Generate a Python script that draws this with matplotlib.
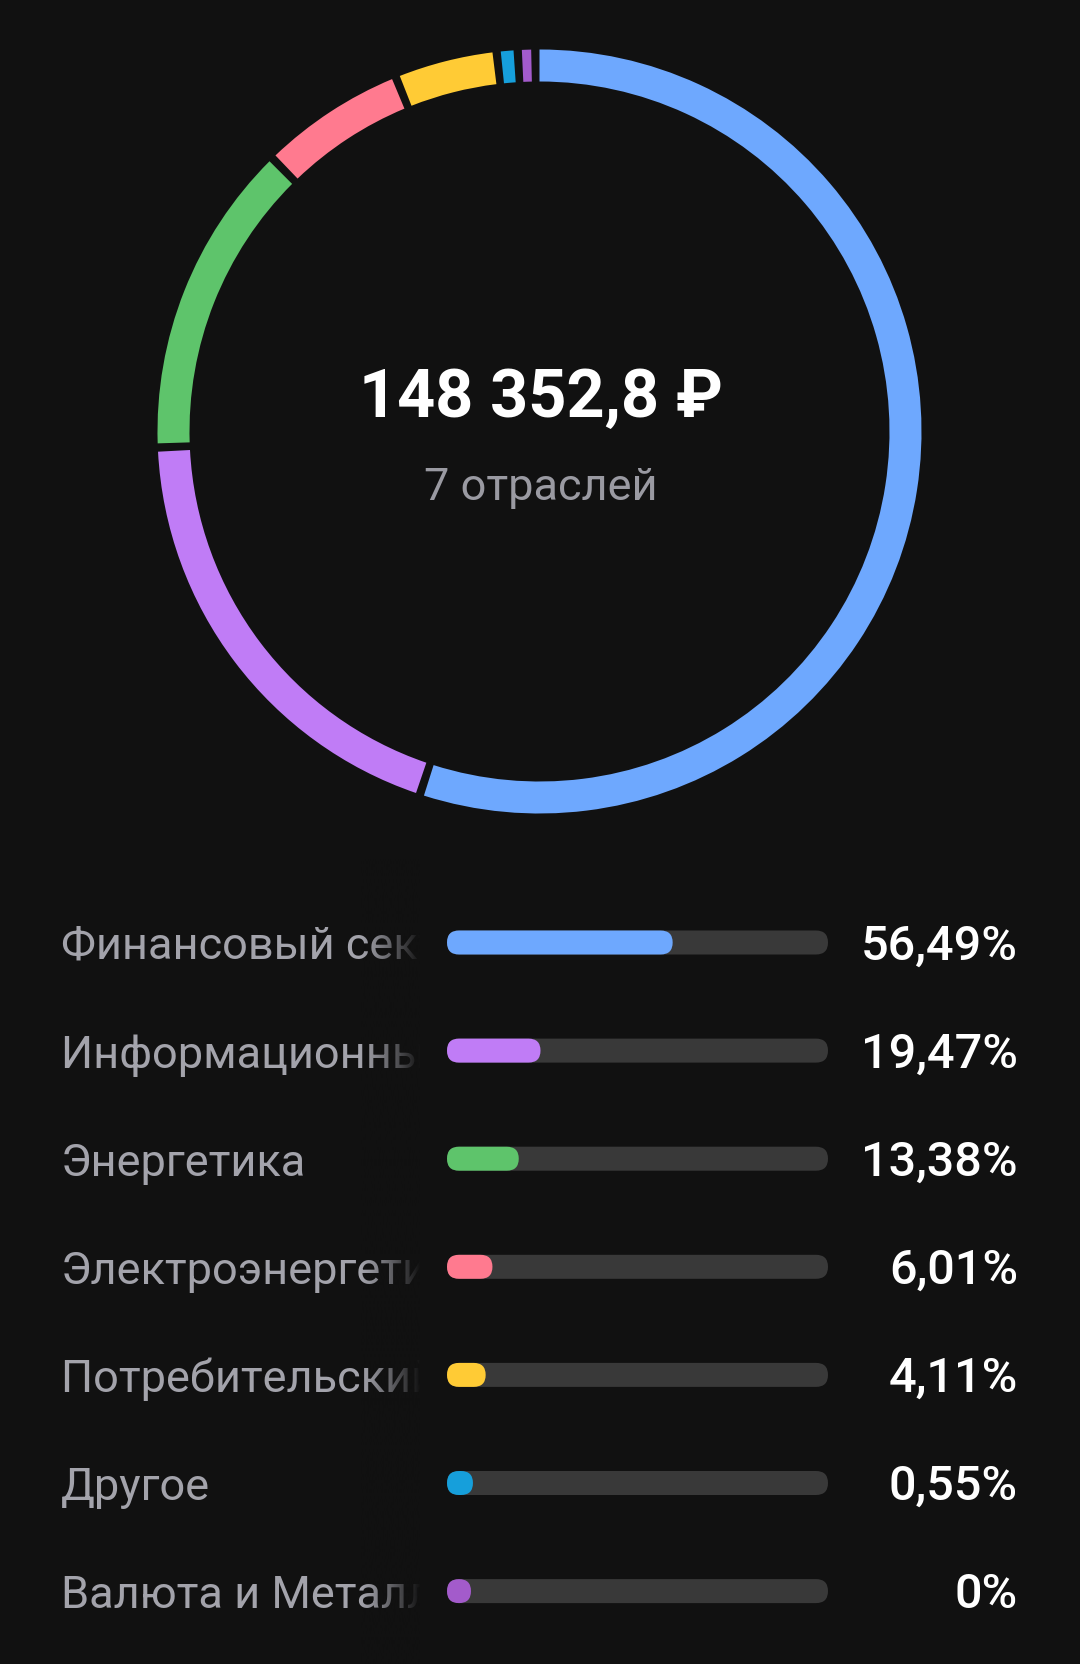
import numpy as np
import matplotlib
matplotlib.use("Agg")
import matplotlib.pyplot as plt
from matplotlib.patches import Wedge, FancyBboxPatch, Rectangle

# ---- data ----
sectors = ["Финансовый сектор", "Информационные технологии", "Энергетика",
           "Электроэнергетика", "Потребительский сектор", "Другое", "Валюта и Металлы"]
shares = [56.49, 19.47, 13.38, 6.01, 4.11, 0.55, 0.0]
share_labels = ["56,49%", "19,47%", "13,38%", "6,01%", "4,11%", "0,55%", "0%"]
colors = ["#6EA8FE", "#C07CF6", "#5EC46B", "#FF7A8F", "#FFCB35", "#169FDB", "#A35BCB"]
total_text = "148 352,8 ₽"
subtitle = "7 отраслей"

BG = "#111111"
TRACK = "#393939"
FONT = ["Roboto", "DejaVu Sans"]

W, H = 1080, 1665
fig = plt.figure(figsize=(W / 100, H / 100), dpi=100, facecolor=BG)
ax = fig.add_axes([0, 0, 1, 1])
ax.set_facecolor(BG)
ax.set_xlim(0, W)
ax.set_ylim(H, 0)
ax.axis("off")

# ---- donut ----
cx, cy = 539.5, 432.5
r_out, ring = 382, 32
gap = 1.25
min_ang = 1.4
avail = 360 - gap * len(shares) - min_ang
tot = sum(shares)
start = -90.0
for v, c in zip(shares, colors):
    span = max(v / tot * avail, min_ang)
    ax.add_patch(Wedge((cx, cy), r_out, start, start + span, width=ring,
                       facecolor=c, edgecolor="none", antialiased=True))
    start += span + gap

ax.text(cx + 1, 417, total_text, ha="center", va="baseline", color="white",
        fontsize=48, fontweight="bold", family=FONT)
ax.text(cx + 1, 500, subtitle, ha="center", va="baseline", color="#9A9AA2",
        fontsize=32.5, family=FONT)

# ---- rows ----
row0, step = 943.5, 108.1
lab_x = 61
clip_x = 420
fade_w = 60
tx0, tx1 = 447, 828
bh = 24
pct_x = 1018

for i, (name, v, lbl, c) in enumerate(zip(sectors, shares, share_labels, colors)):
    yc = row0 + i * step
    ax.text(lab_x, yc + 16, name, ha="left", va="baseline", color="#A3A3AB",
            fontsize=32.5, family=FONT, zorder=2)

# cover text beyond the clip line, with a fade
ax.add_patch(Rectangle((clip_x, 860), W - clip_x, H - 860, facecolor=BG,
                       edgecolor="none", zorder=3))
grad = np.zeros((1, 256, 4))
grad[..., 0:3] = matplotlib.colors.to_rgb(BG)
grad[..., 3] = np.linspace(0, 1, 256) ** 1.2
ax.imshow(grad, extent=[clip_x - fade_w, clip_x, H, 860], aspect="auto",
          interpolation="bilinear", zorder=3)
ax.set_xlim(0, W)
ax.set_ylim(H, 0)

for i, (name, v, lbl, c) in enumerate(zip(sectors, shares, share_labels, colors)):
    yc = row0 + i * step
    tw = tx1 - tx0
    ax.add_patch(FancyBboxPatch((tx0, yc - bh / 2), tw, bh,
                                boxstyle=f"round,pad=0,rounding_size={bh/2}",
                                facecolor=TRACK, edgecolor="none", zorder=4))
    fw = bh + v / 100 * (tw - bh)
    ax.add_patch(FancyBboxPatch((tx0, yc - bh / 2), fw, bh,
                                boxstyle=f"round,pad=0,rounding_size={bh/2}",
                                facecolor=c, edgecolor="none", zorder=5))
    ax.text(pct_x, yc + 16, lbl, ha="right", va="baseline", color="white",
            fontsize=35, fontweight="medium", family=FONT, zorder=6)

fig.savefig("out.png", dpi=100, facecolor=BG)
